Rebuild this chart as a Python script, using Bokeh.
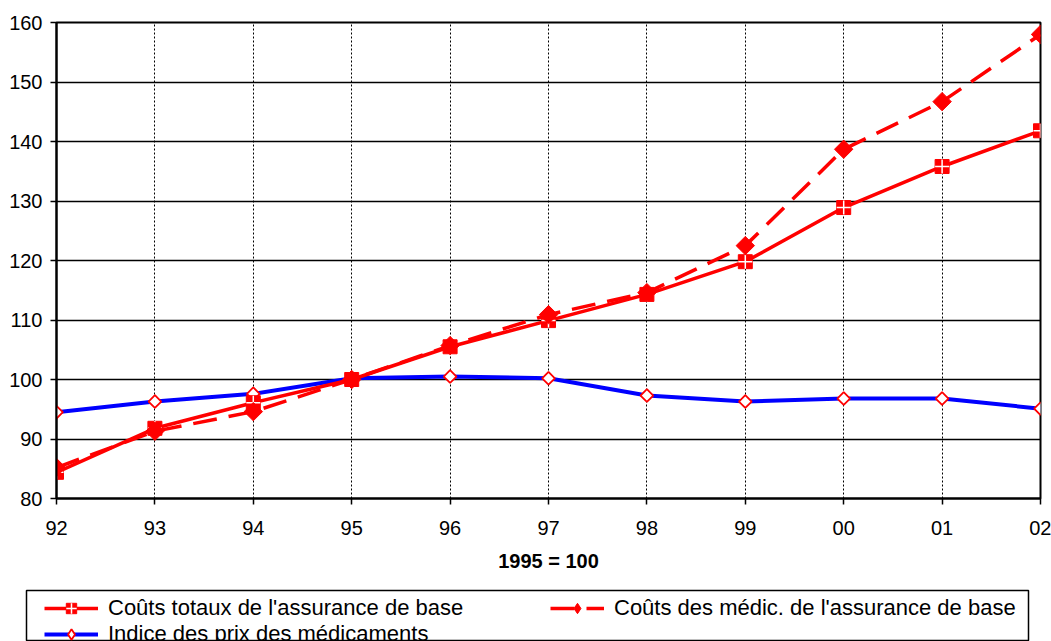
import math
from bokeh.plotting import figure
from bokeh.layouts import column, row
from bokeh.models import FixedTicker, Legend, LegendItem, ColumnDataSource
from bokeh.embed import file_html
from bokeh.resources import INLINE

years = ["92", "93", "94", "95", "96", "97", "98", "99", "00", "01", "02"]
couts_totaux = [84.4, 91.8, 96.1, 100.0, 105.5, 109.9, 114.3, 119.8, 128.9, 135.8, 141.8]
couts_medic = [85.2, 91.3, 94.6, 100.0, 105.7, 110.9, 114.6, 122.5, 138.7, 146.7, 158.0]
indice_prix = [94.5, 96.3, 97.6, 100.2, 100.5, 100.2, 97.3, 96.3, 96.8, 96.8, 95.1]

labels = ["Coûts totaux de l'assurance de base",
          "Coûts des médic. de l'assurance de base",
          "Indice des prix des médicaments"]

xs = list(range(len(years)))
FONT = "Liberation Sans"

p = figure(width=1051, height=588, x_range=(0, 10), y_range=(80, 160),
           output_backend="svg", toolbar_location=None,
           min_border_left=56, min_border_top=22, min_border_right=11,
           min_border_bottom=90)

src = ColumnDataSource(dict(x=xs, tot=couts_totaux, med=couts_medic, ind=indice_prix))


def draw_series(fig, source, legend_style=False):
    if legend_style:
        b_mark = dict(marker="diamond", size=13)
        m_mark = dict(marker="diamond", size=17)
    else:
        b_mark = dict(marker="square", angle=math.pi / 4, size=9)
        m_mark = dict(marker="square", angle=math.pi / 4, size=13)
    rb = [fig.line("x", "ind", source=source, line_color="#0000ff", line_width=4),
          fig.scatter("x", "ind", source=source, fill_color="white", line_color="red",
                      line_width=1.8, **b_mark)]
    rt = [fig.line("x", "tot", source=source, line_color="red", line_width=3.5),
          fig.scatter("x", "tot", source=source, marker="square", size=14,
                      fill_color="red", line_color="red"),
          fig.scatter("x", "tot", source=source, marker="cross", size=14,
                      line_color="white", line_width=1.5)]
    rm = [fig.line("x", "med", source=source, line_color="red", line_width=3.5,
                   line_dash="24 12"),
          fig.scatter("x", "med", source=source, fill_color="red", line_color="red",
                      **m_mark)]
    return rt, rm, rb


draw_series(p, src)

# axes
p.xaxis.ticker = FixedTicker(ticks=xs)
p.xaxis.major_label_overrides = {i: y for i, y in enumerate(years)}
p.yaxis.ticker = FixedTicker(ticks=[80, 90, 100, 110, 120, 130, 140, 150, 160])
for ax in (p.xaxis, p.yaxis):
    ax.axis_line_color = "black"
    ax.axis_line_width = 2
    ax.major_tick_line_color = "black"
    ax.major_tick_line_width = 1.5
    ax.major_tick_out = 6
    ax.major_tick_in = 0
    ax.minor_tick_line_color = None
    ax.major_label_text_font = FONT
    ax.major_label_text_font_size = "20px"
    ax.major_label_text_color = "black"
p.xaxis.major_label_standoff = 16
p.yaxis.major_label_standoff = 8
p.xaxis.axis_label = "1995 = 100"
p.xaxis.axis_label_text_font = FONT
p.xaxis.axis_label_text_font_size = "20px"
p.xaxis.axis_label_text_font_style = "bold"
p.xaxis.axis_label_text_color = "black"
p.xaxis.axis_label_standoff = 12

p.ygrid.grid_line_color = "black"
p.ygrid.grid_line_width = 1.5
p.xgrid.grid_line_color = "black"
p.xgrid.grid_line_width = 1
p.xgrid.grid_line_dash = "2 2"
p.outline_line_color = "black"
p.outline_line_width = 2
p.background_fill_color = "white"
p.border_fill_color = "white"

# legend panel (its frame outline is the legend box); data lie outside its ranges
lg = figure(width=1051, height=53, x_range=(-100, -99), y_range=(-100, -99),
            output_backend="svg", toolbar_location=None,
            x_axis_location=None, y_axis_location=None,
            min_border_left=26, min_border_right=23, min_border_top=2, min_border_bottom=0)
lg.grid.visible = False
lg.outline_line_color = "black"
lg.outline_line_width = 1.5
lg.border_fill_color = "white"
lt, lm, lb = draw_series(lg, src, legend_style=True)

common = dict(label_text_font=FONT, label_text_font_size="22px", label_text_color="black",
              glyph_width=54, glyph_height=26, label_height=26, label_standoff=10,
              spacing=0, padding=0, margin=0, border_line_color=None,
              background_fill_alpha=0)
legA = Legend(items=[LegendItem(label=labels[0], renderers=lt),
                     LegendItem(label=labels[2], renderers=lb)],
              orientation="vertical", location=(18, -6), **common)
legB = Legend(items=[LegendItem(label=labels[1], renderers=lm)],
              orientation="vertical", location=(524, 20), **common)
lg.add_layout(legA, "center")
lg.add_layout(legB, "center")

layout = column(p, row(lg, spacing=0), spacing=0)
open("out.html", "w").write(file_html(layout, INLINE))
